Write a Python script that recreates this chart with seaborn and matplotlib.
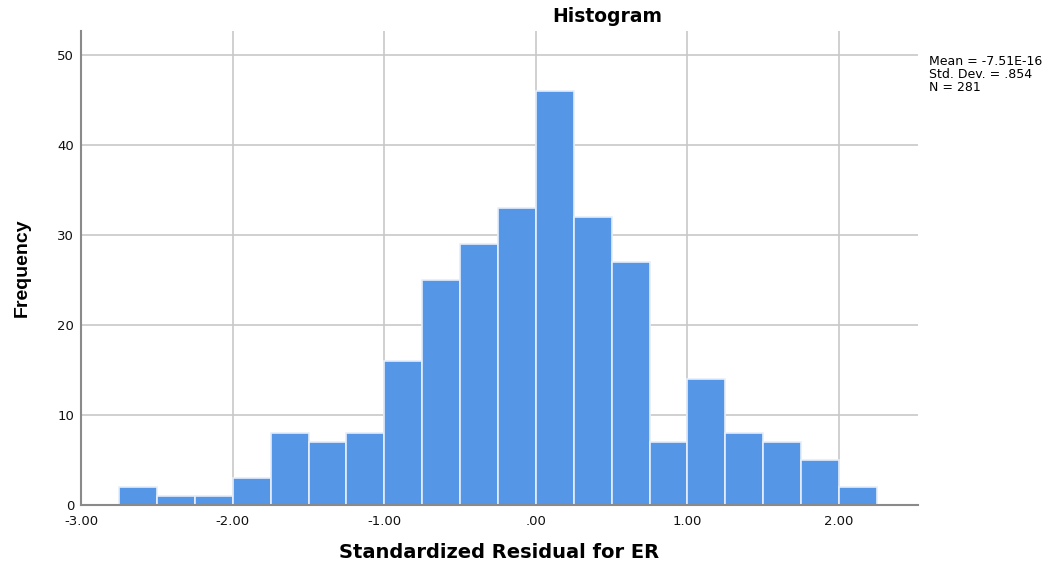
import numpy as np
import pandas as pd
import matplotlib
matplotlib.use("Agg")
import matplotlib.pyplot as plt
import seaborn as sb

# bin centres (width .25) and frequencies
bin_centers = [-2.625, -2.375, -2.125, -1.875, -1.625, -1.375, -1.125, -0.875, -0.625, -0.375,
               -0.125, 0.125, 0.375, 0.625, 0.875, 1.125, 1.375, 1.625, 1.875, 2.125]
counts = [2, 1, 1, 3, 8, 7, 8, 16, 25, 29, 33, 46, 32, 27, 7, 14, 8, 7, 5, 2]
bin_edges = [-2.75 + 0.25 * i for i in range(21)]
x_ticks = [-3.0, -2.0, -1.0, 0.0, 1.0, 2.0]
x_labels = ["-3.00", "-2.00", "-1.00", ".00", "1.00", "2.00"]
y_ticks = [0, 10, 20, 30, 40, 50]
stats_text = "Mean = -7.51E-16\nStd. Dev. = .854\nN = 281"

df = pd.DataFrame({"resid": bin_centers, "freq": counts})

sb.set_style("white")
plt.rcParams["font.family"] = ["DejaVu Sans"]
plt.rcParams["text.color"] = "black"
plt.rcParams["axes.labelcolor"] = "black"

fig = plt.figure(figsize=(10.55, 5.65), dpi=100)
ax = fig.add_axes([0.077, 0.106, 0.793, 0.839])

ax.set_axisbelow(True)
ax.grid(True, color="#c8c8c8", linewidth=1.2)

sb.histplot(data=df, x="resid", weights="freq", bins=bin_edges, ax=ax,
            color="#5596e6", alpha=1, edgecolor="#e6eefa", linewidth=1.2)

ax.set_xlim(-3.0, 2.52)
ax.set_ylim(0, 52.7)
ax.set_xticks(x_ticks)
ax.set_xticklabels(x_labels)
ax.set_yticks(y_ticks)
ax.tick_params(axis="both", labelsize=9.5, length=0, colors="#111111")
ax.tick_params(axis="x", pad=7)
ax.tick_params(axis="y", pad=5)

for side in ["top", "right"]:
    ax.spines[side].set_visible(False)
for side in ["left", "bottom"]:
    ax.spines[side].set_color("#8a8a8a")
    ax.spines[side].set_linewidth(1.5)

ax.set_xlabel("Standardized Residual for ER", fontsize=14, fontweight="bold", labelpad=11)
ax.set_ylabel("Frequency", fontsize=14, fontweight="bold", labelpad=19,
              family="Liberation Sans")

fig.text(0.576, 0.988, "Histogram", ha="center", va="top", fontsize=13.5, fontweight="bold")
fig.text(0.881, 0.903, stats_text, ha="left", va="top", fontsize=9, linespacing=1.0)

plt.savefig("out.png", dpi=100)
